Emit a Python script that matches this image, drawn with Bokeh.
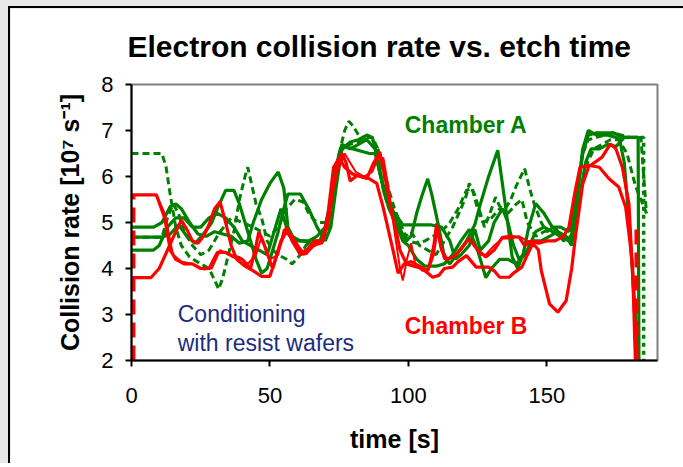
from bokeh.plotting import figure
from bokeh.models import Range1d, Label, FixedTicker
from bokeh.layouts import column
from bokeh.embed import file_html
from bokeh.resources import INLINE

FONT = "Liberation Sans"
GREEN = "#008000"
RED = "#ff0000"
NAVY = "#1c2c80"

# ---- data (time [s], collision rate [1e7 s^-1]) ----
x_ticks = [0, 50, 100, 150]
y_ticks = [2, 3, 4, 5, 6, 7, 8]

chamber_a_1 = [(0, 4.9), (8, 4.9), (11, 5.0), (14, 5.35), (16, 5.4), (18, 5.3), (21, 5.0), (24, 4.75),
               (27, 4.7), (30, 4.8), (33, 4.75), (36, 4.7), (39, 4.55), (42, 4.6), (44, 5.0), (47, 5.5),
               (50, 5.85), (53, 6.1), (55, 5.75), (56.5, 4.9), (59, 4.6), (62, 4.6), (65, 4.55), (68, 4.6),
               (71, 5.0), (73, 5.9), (75, 6.5), (77, 6.65), (80, 6.6), (83, 6.55), (86, 6.5), (88, 6.5),
               (90, 6.0), (93, 5.4), (96, 5.0), (99, 4.6), (101, 4.7), (103, 5.2), (105, 5.6), (107, 5.95),
               (108.5, 5.6), (111, 4.9), (113, 4.25), (115, 4.1), (118, 4.35), (121, 4.6), (124, 4.95),
               (126, 5.4), (129, 6.0), (132.3, 6.57), (135, 5.4), (137.5, 4.25), (139.5, 4.0), (141.5, 4.32),
               (143.5, 4.9), (146, 5.41), (149, 5.2), (152, 4.9), (155, 4.9), (158, 4.8), (161, 5.6),
               (163, 6.6), (165, 7.0), (168, 6.9), (172, 6.9), (175, 6.85), (178, 6.85), (181, 6.85),
               (183, 6.85), (183.3, 2.0)]

chamber_a_2 = [(0, 4.68), (11, 4.68), (14, 4.75), (17, 4.95), (20, 4.7), (23, 4.55), (26, 4.75), (29, 5.0),
               (31, 5.3), (34, 5.7), (37, 5.7), (39, 5.4), (41, 5.0), (43, 4.6), (45, 4.2), (47, 3.9),
               (49, 4.0), (51, 4.4), (53, 4.8), (55, 5.3), (56.5, 5.62), (61, 5.62), (64, 5.3), (67, 4.9),
               (70, 4.6), (72, 4.9), (74, 5.8), (76, 6.6), (79, 6.75), (82, 6.8), (85, 6.9), (87, 6.85),
               (89, 6.4), (91, 5.7), (93, 5.3), (96, 4.9), (98, 4.6), (100, 4.5), (103, 4.2), (106, 4.05),
               (110, 4.05), (113, 4.1), (116, 4.3), (119, 4.6), (122, 4.85), (125, 4.4), (128, 3.8),
               (130, 4.0), (133, 4.2), (136, 4.2), (139, 4.1), (142, 4.3), (145, 4.6), (148, 4.6),
               (151, 4.7), (154, 4.8), (157, 4.7), (159, 4.5), (161, 5.6), (163, 6.5), (165, 6.9),
               (168, 6.95), (171, 6.95), (174, 6.95), (176, 6.9), (178, 6.3), (180, 4.8), (182, 3.0),
               (183, 2.0)]

chamber_a_3 = [(0, 4.4), (8, 4.4), (10, 4.5), (13, 4.9), (16, 5.1), (19, 5.1), (22, 4.9), (25, 4.9),
               (28, 5.1), (31, 5.2), (34, 5.1), (37, 4.9), (40, 4.6), (43, 4.5), (46, 4.4), (49, 4.3),
               (52, 4.9), (54, 5.3), (56, 4.9), (58, 4.7), (61, 4.6), (64, 4.6), (67, 4.7), (70, 4.9),
               (72, 5.5), (74, 6.2), (76, 6.7), (79, 6.6), (82, 6.7), (85, 6.8), (88, 6.6), (90, 6.0),
               (92, 5.5), (95, 5.2), (98, 4.95), (101, 4.95), (104, 4.95), (108, 4.95), (112, 4.9),
               (115, 4.6), (117, 4.2), (119, 4.3), (122, 4.5), (124, 4.85), (126, 4.4), (129, 4.6),
               (131, 5.0), (134, 5.3), (136, 5.0), (138, 4.5), (140, 4.2), (143, 4.4), (146, 4.8),
               (149, 4.9), (152, 4.8), (155, 4.7), (158, 4.6), (160, 4.9), (162, 5.6), (164, 6.3),
               (166, 6.6), (169, 6.6), (172, 6.7), (175, 6.65), (178, 6.85), (183, 6.85)]

chamber_a_dash_1 = [(0, 6.5), (11, 6.5), (12.5, 6.2), (14, 5.6), (16, 4.9), (18, 4.5), (21, 4.25), (25, 4.1),
                    (28, 4.0), (30, 3.75), (31.5, 3.55), (33, 3.8), (35, 4.3), (37, 4.8), (39, 5.5), (41, 6.0),
                    (42, 6.2), (43.5, 5.8), (45, 5.4), (47, 5.1), (49, 4.6), (51, 4.4), (53, 4.3), (56, 4.2),
                    (58, 4.1), (61, 4.3), (63, 4.5), (65, 4.6), (68, 4.6), (71, 4.8), (73, 5.6), (75, 6.5),
                    (77, 7.0), (78.5, 7.2), (80, 7.1), (82, 6.9), (85, 6.8), (87, 6.8), (89, 6.6), (91, 6.2),
                    (93, 5.7), (95, 5.3), (97, 5.0), (99, 4.7), (101, 4.8), (104, 4.5), (107, 4.4), (110, 4.3),
                    (113, 4.6), (116, 4.9), (119, 5.3), (121, 5.6), (122, 5.85), (124, 5.6), (126, 5.2),
                    (127.5, 4.9), (129.5, 5.2), (131.5, 5.55), (133, 5.35), (135, 5.3), (137, 5.5), (139, 5.8),
                    (142, 6.17), (144, 5.7), (145.5, 5.4), (148, 5.0), (150, 4.8), (153, 4.9), (156, 4.6),
                    (159, 4.7), (161, 5.8), (163, 6.5), (165, 6.8), (168, 6.85), (171, 6.9), (174, 6.95),
                    (177, 6.9), (180, 6.85), (184, 6.85), (186, 5.2)]

chamber_a_dash_2 = [(0, 4.68), (11, 4.68), (13, 5.1), (15, 5.4), (17, 5.2), (19, 4.8), (22, 4.5), (25, 4.3),
                    (28, 4.4), (32, 4.8), (36, 5.1), (40, 5.0), (44, 4.9), (47, 4.8), (50, 4.7), (53, 4.9),
                    (56, 5.3), (59, 5.5), (62, 5.45), (64, 5.2), (66, 5.05), (68, 5.0), (70, 5.0), (72, 5.2),
                    (74, 6.0), (76, 6.65), (79, 6.7), (82, 6.75), (85, 6.85), (87, 6.85), (89, 6.6), (91, 6.1),
                    (93, 5.5), (95, 5.1), (97, 4.8), (100, 4.6), (103, 4.55), (106, 4.6), (109, 4.7), (112, 4.8),
                    (115, 5.0), (118, 5.3), (121, 5.7), (123, 5.75), (125, 5.3), (127, 5.0), (130, 5.1),
                    (133, 5.3), (136, 5.2), (139, 5.4), (141, 5.5), (143, 5.0), (146, 4.7), (149, 4.8),
                    (152, 4.9), (155, 4.7), (158, 4.6), (161, 5.3), (164, 6.2), (167, 6.6), (170, 6.7),
                    (173, 6.8), (176, 6.8), (179, 6.5), (182, 5.8), (186, 5.2)]

chamber_a_dot = [(184, 6.85), (185, 6.85), (185, 2.0)]

chamber_b_1 = [(0, 5.6), (9, 5.6), (12, 5.1), (14, 4.4), (16, 4.2), (19, 4.1), (22, 4.1), (25, 4.0), (28, 4.0),
               (31, 4.35), (34, 4.35), (37, 4.25), (40, 4.2), (43, 4.0), (45, 4.5), (46, 4.8), (48, 4.5),
               (51, 4.0), (53, 4.4), (56, 4.9), (58, 4.6), (61, 4.3), (63, 4.4), (66, 4.5), (69, 4.6),
               (71, 5.2), (73, 6.2), (75, 6.4), (77, 6.2), (80, 6.05), (83, 6.0), (86, 5.95), (88.6, 5.85),
               (90.9, 5.33), (94.5, 4.39), (96.3, 3.9), (98.5, 4.1), (101, 4.15), (104, 4.05), (107, 3.95),
               (109, 4.3), (110.5, 4.9), (112, 4.4), (114, 4.2), (117, 4.28), (120, 4.5), (122, 4.65),
               (125, 4.4), (128, 4.25), (131, 4.4), (134, 4.68), (137, 4.7), (140, 4.68), (142, 4.5),
               (145, 4.6), (147, 4.55), (150, 4.6), (153, 4.6), (156, 4.7), (158, 4.9), (160, 5.6),
               (162, 6.2), (166, 6.25), (170, 6.42), (173, 6.71), (175, 6.6), (177.3, 6.2), (179.7, 5.4),
               (181.5, 3.3), (182.5, 2.0)]

chamber_b_2 = [(0, 3.8), (7, 3.8), (10, 4.0), (13, 4.4), (16, 4.8), (18, 5.05), (20, 4.85), (22, 4.6),
               (24, 4.55), (26, 4.7), (28, 4.95), (30, 5.3), (32, 5.45), (34, 5.0), (36, 4.5), (38, 4.2),
               (41, 4.05), (44, 3.95), (47, 3.83), (50, 3.83), (52, 4.2), (54, 4.6), (56, 4.8), (58, 4.7),
               (60, 4.5), (62, 4.3), (64, 4.45), (66, 4.6), (69, 4.6), (71, 5.0), (73, 5.8), (74.5, 6.2),
               (76, 6.5), (77.5, 6.3), (79, 5.9), (81.5, 6.02), (85, 5.96), (87.5, 6.3), (89.7, 6.53),
               (92, 5.85), (94, 5.2), (95.8, 4.76), (97, 4.4), (99.3, 4.1), (102, 4.05), (105, 4.0),
               (108.8, 3.81), (111, 3.85), (113, 4.0), (116, 4.03), (118, 4.15), (121, 4.28), (124.5, 4.03),
               (127, 4.03), (129, 4.03), (131, 3.95), (133, 3.81), (136.5, 3.81), (138, 3.9), (141, 4.03),
               (143, 4.3), (145, 4.55), (147, 4.4), (148, 3.96), (151, 3.23), (154, 3.05), (157, 3.3),
               (159, 4.0), (160.5, 4.76), (163, 5.84), (165.3, 6.24), (169, 6.2), (172.5, 5.95), (176, 5.77),
               (178.5, 5.33), (180, 4.6), (181, 4.03), (182, 2.0)]

chamber_b_3 = [(0, 5.6), (9, 5.6), (12, 5.2), (15, 4.3), (18, 4.15), (22, 4.1), (26, 3.98), (29, 4.0),
               (32, 4.4), (35, 4.3), (39, 4.25), (42, 4.1), (45, 4.3), (47, 4.7), (50, 4.2), (53, 4.3),
               (55, 4.85), (57, 4.7), (60, 4.5), (63, 4.3), (66, 4.5), (69, 4.55), (71, 5.0), (73, 5.9),
               (75, 6.2), (77, 6.5), (79, 6.3), (81, 6.1), (84, 6.0), (87, 6.1), (89, 6.4), (91, 6.4),
               (93, 5.7), (95, 4.8), (97, 4.0), (98, 3.74), (99.5, 4.2), (101, 4.55), (102.5, 4.1),
               (105, 3.95), (107, 3.96), (109, 4.5), (110, 4.98), (111.5, 4.5), (113, 4.2), (116, 4.25),
               (119, 4.4), (122, 4.65), (124, 4.5), (126, 4.3), (128, 4.3), (131, 4.5), (134, 4.65),
               (137, 4.65), (140, 4.7), (143, 4.6), (146, 4.6), (149, 4.6), (152, 4.6), (155, 4.65),
               (157, 4.8)]

chamber_b_dash_start = [(0.7, 2.0), (0.7, 5.6)]
chamber_b_dash_end = [(182.4, 4.85), (182.4, 2.0)]


def xs(series):
    return [p[0] for p in series]


def ys(series):
    return [p[1] for p in series]


p = figure(width=680, height=457, output_backend="svg", toolbar_location=None,
           x_range=Range1d(0, 190), y_range=Range1d(2, 8),
           min_border_left=121, min_border_right=33, min_border_top=76, min_border_bottom=105)
p.margin = (6, 0, 0, 8)
p.styles = {"border-left": "2px solid #000000", "border-top": "2px solid #000000"}

p.background_fill_color = "white"
p.border_fill_color = "white"
p.outline_line_color = "#808080"
p.outline_line_width = 2
p.xgrid.visible = False
p.ygrid.visible = False

# lines
for s in (chamber_a_3, chamber_a_2, chamber_a_1):
    p.line(xs(s), ys(s), line_color=GREEN, line_width=3.2)
for s in (chamber_a_dash_1, chamber_a_dash_2):
    p.line(xs(s), ys(s), line_color=GREEN, line_width=3, line_dash="7 4")
p.line(xs(chamber_a_dot), ys(chamber_a_dot), line_color=GREEN, line_width=3.5, line_dash="4 4")
p.line(xs(chamber_b_3), ys(chamber_b_3), line_color=RED, line_width=2)
for s in (chamber_b_2, chamber_b_1):
    p.line(xs(s), ys(s), line_color=RED, line_width=3.2)
for s in (chamber_b_dash_start, chamber_b_dash_end):
    p.line(xs(s), ys(s), line_color=RED, line_width=4, line_dash="15 8")

# axes
for ax in (p.xaxis[0], p.yaxis[0]):
    ax.axis_line_color = "black"
    ax.axis_line_width = 2
    ax.major_tick_line_color = "black"
    ax.major_tick_line_width = 2
    ax.major_tick_out = 6
    ax.major_tick_in = 0
    ax.minor_tick_line_color = None
    ax.major_label_text_font = FONT
    ax.major_label_text_font_size = "22px"
    ax.major_label_text_color = "black"
    ax.axis_label_text_font = FONT
    ax.axis_label_text_font_style = "bold"
    ax.axis_label_text_font_size = "25px"
    ax.axis_label_text_color = "black"

p.xaxis.ticker = FixedTicker(ticks=x_ticks)
p.yaxis.ticker = FixedTicker(ticks=y_ticks)
p.xaxis.major_label_standoff = 21
p.yaxis.major_label_standoff = 12
p.xaxis.axis_label = "time [s]"
p.yaxis.axis_label = "Collision rate [10\u2077 s\u207b\u00b9]"
p.xaxis.axis_label_standoff = 19
p.yaxis.axis_label_standoff = 14

p.title.text = "Electron collision rate vs. etch time"
p.title.text_font = FONT
p.title.text_font_style = "bold"
p.title.text_font_size = "30px"
p.title.text_color = "black"
p.title.align = "left"
p.title.offset = -4
p.title.vertical_align = "top"
p.title.standoff = 40

p.add_layout(Label(x=98.7, y=7.13, text="Chamber A", text_font=FONT, text_font_size="23px",
                   text_font_style="bold", text_color=GREEN, text_baseline="middle"))
p.add_layout(Label(x=98.7, y=2.76, text="Chamber B", text_font=FONT, text_font_size="23px",
                   text_font_style="bold", text_color=RED, text_baseline="middle"))
p.add_layout(Label(x=16.7, y=3.02, text="Conditioning", text_font=FONT, text_font_size="23px",
                   text_color=NAVY, text_baseline="middle"))
p.add_layout(Label(x=16.7, y=2.39, text="with resist wafers", text_font=FONT, text_font_size="23px",
                   text_color=NAVY, text_baseline="middle"))

root = column(p, width=683, styles={"background-color": "#e8e8e8", "overflow": "hidden"})
open("out.html", "w").write(file_html(root, INLINE))
